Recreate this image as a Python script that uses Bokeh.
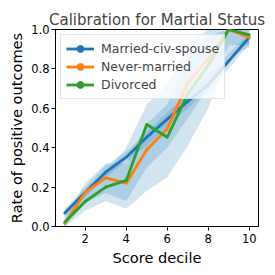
from bokeh.plotting import figure
from bokeh.models import Range1d, FixedTicker, Legend, LegendItem, CustomJSTickFormatter
from bokeh.embed import file_html
from bokeh.resources import INLINE

deciles = [1, 2, 3, 4, 5, 6, 7, 8, 9, 10]
groups = ["Married-civ-spouse", "Never-married", "Divorced"]
colors = ["#1f77b4", "#ff7f0e", "#2ca02c"]

married = [0.068, 0.174, 0.276, 0.352, 0.453, 0.545, 0.635, 0.72, 0.84, 0.96]
never = [0.014, 0.174, 0.247, 0.22, 0.39, 0.496, 0.73, 0.85, 1.0, 0.96]
divorced = [0.022, 0.127, 0.2, 0.234, 0.518, 0.453, 0.673, 0.817, 1.0, 0.973]

married_lo = [0.05, 0.15, 0.25, 0.33, 0.41, 0.51, 0.60, 0.69, 0.80, 0.93]
married_hi = [0.09, 0.20, 0.31, 0.38, 0.48, 0.58, 0.67, 0.76, 0.88, 0.98]
never_lo = [0.0, 0.12, 0.17, 0.13, 0.30, 0.40, 0.55, 0.70, 0.92, 0.92]
never_hi = [0.04, 0.22, 0.32, 0.32, 0.52, 0.62, 0.85, 0.97, 1.0, 1.0]
divorced_lo = [0.0, 0.08, 0.13, 0.09, 0.18, 0.25, 0.41, 0.60, 0.86, 0.91]
divorced_hi = [0.06, 0.18, 0.28, 0.40, 0.62, 0.72, 0.92, 1.0, 1.0, 1.0]

y_ticks = [0.0, 0.2, 0.4, 0.6, 0.8, 1.0]
x_ticks = [2, 4, 6, 8, 10]

FONT = "DejaVu Sans"

p = figure(width=267, height=271, output_backend="svg", toolbar_location=None,
           x_range=Range1d(0.55, 10.45), y_range=Range1d(0, 1),
           min_border_left=55, min_border_right=9, min_border_top=29, min_border_bottom=45,
           title="Calibration for Martial Status")

p.title.text_font = FONT
p.title.text_font_size = "15px"
p.title.text_font_style = "normal"
p.title.align = "center"
p.title.standoff = 2
p.title.offset = 0

p.xgrid.visible = False
p.ygrid.visible = False
p.outline_line_color = "black"
p.outline_line_width = 1
p.background_fill_color = "white"
p.border_fill_color = "white"

series = [married, never, divorced]
bands = [(married_lo, married_hi), (never_lo, never_hi), (divorced_lo, divorced_hi)]

for lo, hi in bands:
    p.varea(x=deciles, y1=lo, y2=hi, fill_color="#1f77b4", fill_alpha=0.2)

items = []
for name, ys, c in zip(groups, series, colors):
    r1 = p.line(deciles, ys, line_color=c, line_width=2.8)
    r2 = p.scatter(deciles, ys, size=2, fill_color=c, line_color=c)
    items.append(LegendItem(label=name, renderers=[r1, r2]))

legend = Legend(items=items, location="top_left", margin=5, padding=5,
                spacing=1, glyph_width=28, glyph_height=17, label_standoff=7,
                label_text_font=FONT, label_text_font_size="12.5px",
                border_line_color="#cccccc", border_line_width=1,
                background_fill_color="white", background_fill_alpha=0.8)
p.add_layout(legend)

for ax in (p.xaxis, p.yaxis):
    ax.axis_line_color = "black"
    ax.major_tick_line_color = "black"
    ax.major_tick_out = 4
    ax.major_tick_in = 0
    ax.minor_tick_line_color = None
    ax.major_label_text_font = FONT
    ax.major_label_text_font_size = "11.5px"
    ax.major_label_text_color = "black"
    ax.axis_label_text_font = FONT
    ax.axis_label_text_font_size = "14.6px"
    ax.axis_label_text_font_style = "normal"
    ax.axis_label_text_color = "black"

p.xaxis.ticker = FixedTicker(ticks=x_ticks)
p.yaxis.ticker = FixedTicker(ticks=y_ticks)
p.yaxis.formatter = CustomJSTickFormatter(code="return tick.toFixed(1);")
p.xaxis.major_label_standoff = 3
p.yaxis.major_label_standoff = 2
p.xaxis.axis_label = "Score decile"
p.yaxis.axis_label = "Rate of positive outcomes"
p.xaxis.axis_label_standoff = 3
p.yaxis.axis_label_standoff = 3

open("out.html", "w").write(file_html(p, INLINE))
